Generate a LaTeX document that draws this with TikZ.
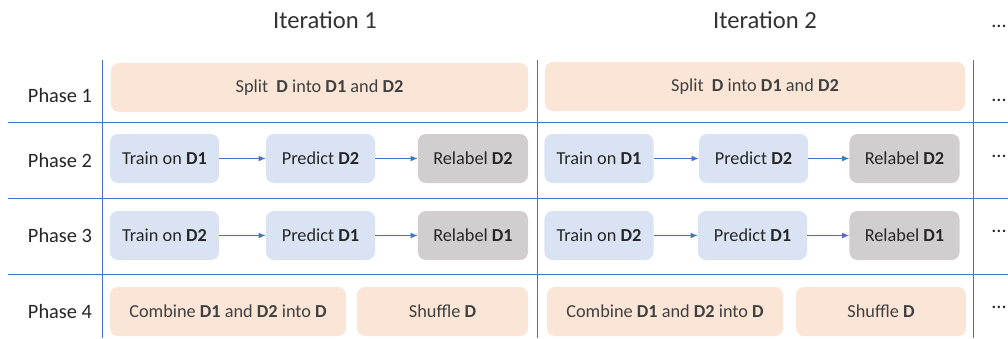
\documentclass[tikz,border=0pt]{standalone}
\usepackage{fontspec}
\setmainfont{Carlito}
\usepackage{tikz}
\usepackage{xcolor}
\usetikzlibrary{arrows.meta}
\usetikzlibrary{positioning, calc}
\definecolor{gridblue}{HTML}{4472C4}
\definecolor{peach}{HTML}{FBE5D6}
\definecolor{paleblue}{HTML}{DAE3F3}
\definecolor{palegray}{HTML}{D0CECE}
\definecolor{boxtext}{HTML}{262626}

\begin{document}
\begin{tikzpicture}[
        x=0.025cm, y=-0.025cm,
        every node/.style={minimum height=1.225cm, align=center, font=\fontsize{13}{15}\selectfont, text=boxtext, inner sep=0pt},
        peachbox/.style={fill=peach, rounded corners=0.2cm, text=black!75},
        bluebox/.style={fill=paleblue, rounded corners=0.2cm, minimum width=2.725cm},
        graybox/.style={fill=palegray, rounded corners=0.2cm, minimum width=2.75cm},
        label/.style={minimum height=0pt, font=\fontsize{14.5}{17}\selectfont, text=black!85},
        title/.style={minimum height=0pt, font=\fontsize{17.5}{20}\selectfont, text=black!80},
        gridline/.style={draw=gridblue, line width=0.6pt},
        flow/.style={-{Latex[length=5pt, width=4pt]}, draw=gridblue, line width=0.6pt}
        ]
        \useasboundingbox (0,0) rectangle (1008,338);

        % Grid
        \draw[gridline] (8,122) -- (1008,122);
        \draw[gridline] (8,198) -- (1008,198);
        \draw[gridline] (8,274) -- (1008,274);
        \draw[gridline] (102,60) -- (102,338);
        \draw[gridline] (537,60) -- (537,338);
        \draw[gridline] (973,60) -- (973,338);

        % Titles
        \node[title] (iterone) at (325,20) {Iteration 1};
        \node[title] (itertwo) at (765,20) {Iteration 2};
        \node[label] (phaseone) at (60,95) {Phase 1};
        \node[label] (phasetwo) at (60,160) {Phase 2};
        \node[label] (phasethree) at (60,235) {Phase 3};
        \node[label] (phasefour) at (60,311) {Phase 4};

        % Dots
        \node[label, anchor=east] (dotstitle) at (1007,26) {...};
        \node[label, anchor=east] (dotsone) at (1007,100) {...};
        \node[label, anchor=east] (dotstwo) at (1007,156) {...};
        \node[label, anchor=east] (dotsthree) at (1007,231) {...};
        \node[label, anchor=east] (dotsfour) at (1007,307) {...};

        % Iteration 1
        \node[peachbox, minimum width=10.425cm] (splitone) at (319.5,87.5) {Split\ \ \textbf{D} into \textbf{D1} and \textbf{D2}};
        \node[bluebox] (trainonea) at (164.5,158.5) {Train on \textbf{D1}};
        \node[bluebox] (predictonea) at (320.5,158.5) {Predict \textbf{D2}};
        \node[graybox] (relabelonea) at (473,158.5) {Relabel \textbf{D2}};
        \node[bluebox] (trainoneb) at (164.5,235.5) {Train on \textbf{D2}};
        \node[bluebox] (predictoneb) at (320.5,235.5) {Predict \textbf{D1}};
        \node[graybox] (relabeloneb) at (473,235.5) {Relabel \textbf{D1}};
        \node[peachbox, minimum width=5.9cm] (combineone) at (228,311.5) {Combine \textbf{D1} and \textbf{D2} into \textbf{D}};
        \node[peachbox, minimum width=4.275cm] (shuffleone) at (442.5,311.5) {Shuffle \textbf{D}};

        % Iteration 2
        \node[peachbox, minimum width=10.5cm] (splittwo) at (755,86.5) {Split\ \ \textbf{D} into \textbf{D1} and \textbf{D2}};
        \node[bluebox] (traintwoa) at (599,158.5) {Train on \textbf{D1}};
        \node[bluebox] (predicttwoa) at (753.5,158.5) {Predict \textbf{D2}};
        \node[graybox] (relabeltwoa) at (904.5,158.5) {Relabel \textbf{D2}};
        \node[bluebox] (traintwob) at (599,235.5) {Train on \textbf{D2}};
        \node[bluebox] (predicttwob) at (752.5,235.5) {Predict \textbf{D1}};
        \node[graybox] (relabeltwob) at (904.5,235.5) {Relabel \textbf{D1}};
        \node[peachbox, minimum width=5.9cm] (combinetwo) at (665,311.5) {Combine \textbf{D1} and \textbf{D2} into \textbf{D}};
        \node[peachbox, minimum width=4.25cm] (shuffletwo) at (881,311.5) {Shuffle \textbf{D}};

        % Arrows
        \draw[flow] (trainonea) -- (predictonea);
        \draw[flow] (predictonea) -- (relabelonea);
        \draw[flow] (trainoneb) -- (predictoneb);
        \draw[flow] (predictoneb) -- (relabeloneb);
        \draw[flow] (traintwoa) -- (predicttwoa);
        \draw[flow] (predicttwoa) -- (relabeltwoa);
        \draw[flow] (traintwob) -- (predicttwob);
        \draw[flow] (predicttwob) -- (relabeltwob);

        \end{tikzpicture}
\end{document}
